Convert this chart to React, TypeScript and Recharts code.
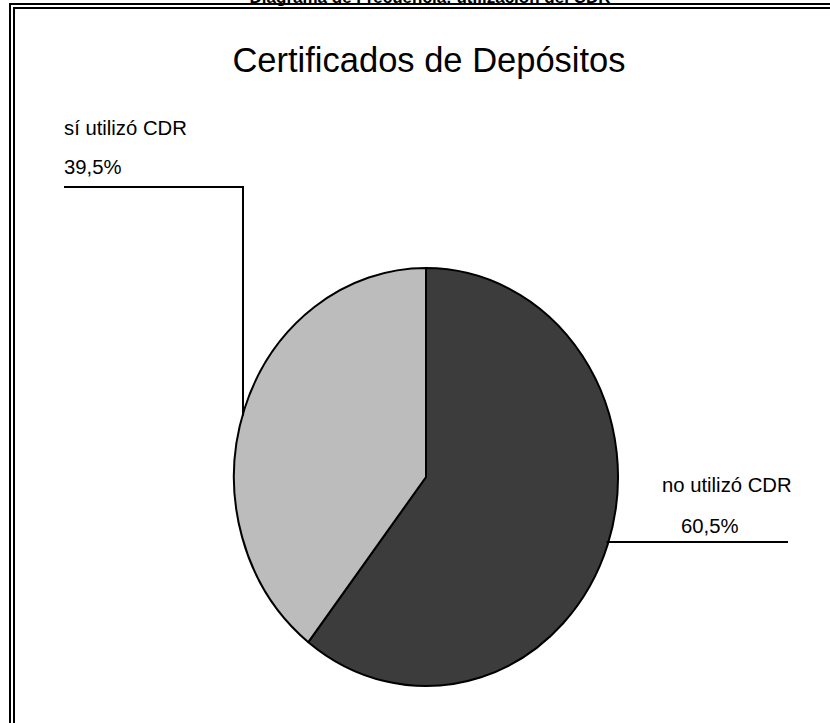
import { PieChart, Pie, Cell, Customized } from 'recharts';

const categories = ['no utilizó CDR', 'sí utilizó CDR'];
const values = [60.5, 39.5];
const percentLabels = ['60,5%', '39,5%'];
const colors = ['#3c3c3c', '#bcbcbc'];

const chartTitle = 'Certificados de Depósitos';
const pageTitle = 'Diagrama de Frecuencia: utilización del CDR';

const W = 830;
const H = 723;
const CX = 426;
const CY = 477;
const RX = 192;
const RY = 209;
const FONT = '"Liberation Sans", Arial, sans-serif';

const data = categories.map((name, i) => ({ name, value: values[i] }));

// elliptical sector, angles come from recharts
function EllipseSector(props: any) {
  const { cx, cy, outerRadius, startAngle, endAngle, fill } = props;
  const rx = outerRadius;
  const ry = outerRadius * (RY / RX);
  const rad = Math.PI / 180;
  const x1 = cx + rx * Math.cos(startAngle * rad);
  const y1 = cy - ry * Math.sin(startAngle * rad);
  const x2 = cx + rx * Math.cos(endAngle * rad);
  const y2 = cy - ry * Math.sin(endAngle * rad);
  const large = Math.abs(startAngle - endAngle) > 180 ? 1 : 0;
  const sweep = startAngle > endAngle ? 1 : 0;
  const d = `M${cx},${cy} L${x1},${y1} A${rx},${ry} 0 ${large} ${sweep} ${x2},${y2} Z`;
  return <path d={d} fill={fill} stroke="#000" strokeWidth={2} strokeLinejoin="round" />;
}

function renderLabel(props: any) {
  const { cx, cy, outerRadius, index } = props;
  const rx = outerRadius;
  const ry = outerRadius * (RY / RX);
  const txt = { fontFamily: FONT, fontSize: 20.3, fill: '#000' };
  if (index === 0) {
    const ly = cy + 65;
    const ex = cx + rx * Math.sqrt(1 - (65 / ry) ** 2);
    return (
      <g>
        <text x={cx + 236} y={cy + 15} style={txt}>{categories[0]}</text>
        <text x={cx + 255} y={cy + 56} style={txt}>{percentLabels[0]}</text>
        <line x1={ex - 2} y1={ly} x2={cx + 362} y2={ly} stroke="#000" strokeWidth={2} />
      </g>
    );
  }
  const lx = cx - 183;
  const ey = cy - ry * Math.sqrt(1 - (183 / rx) ** 2);
  return (
    <g>
      <text x={cx - 362} y={cy - 342} style={txt}>{categories[1]}</text>
      <text x={cx - 362} y={cy - 303} style={txt}>{percentLabels[1]}</text>
      <polyline points={`${cx - 362},${cy - 290} ${lx},${cy - 290} ${lx},${ey + 2}`} fill="none" stroke="#000" strokeWidth={2} />
    </g>
  );
}

function Frame() {
  return (
    <g>
      <text x={430} y={3} textAnchor="middle" style={{ fontFamily: FONT, fontSize: 17, fontWeight: 'bold' }}>{pageTitle}</text>
      <line x1={9} y1={4} x2={W} y2={4} stroke="#000" strokeWidth={2} />
      <line x1={10} y1={3} x2={10} y2={H} stroke="#000" strokeWidth={2} />
      <line x1={13} y1={8} x2={W} y2={8} stroke="#000" strokeWidth={2} />
      <line x1={14} y1={7} x2={14} y2={H} stroke="#000" strokeWidth={2} />
      <text x={429} y={72} textAnchor="middle" style={{ fontFamily: FONT, fontSize: 34.5 }}>{chartTitle}</text>
    </g>
  );
}

export default function App() {
  return (
    <div style={{ position: 'absolute', left: 0, top: 0, width: W, height: H, background: '#fff' }}>
      <PieChart width={W} height={H} margin={{ top: 0, right: 0, bottom: 0, left: 0 }}>
        <Customized component={Frame} />
        <Pie
          data={data}
          dataKey="value"
          nameKey="name"
          cx={CX}
          cy={CY}
          outerRadius={RX}
          startAngle={90}
          endAngle={-270}
          shape={EllipseSector}
          label={renderLabel}
          labelLine={false}
          stroke="#000"
          strokeWidth={2}
          isAnimationActive={false}
        >
          {data.map((d, i) => (
            <Cell key={d.name} fill={colors[i]} />
          ))}
        </Pie>
      </PieChart>
    </div>
  );
}
